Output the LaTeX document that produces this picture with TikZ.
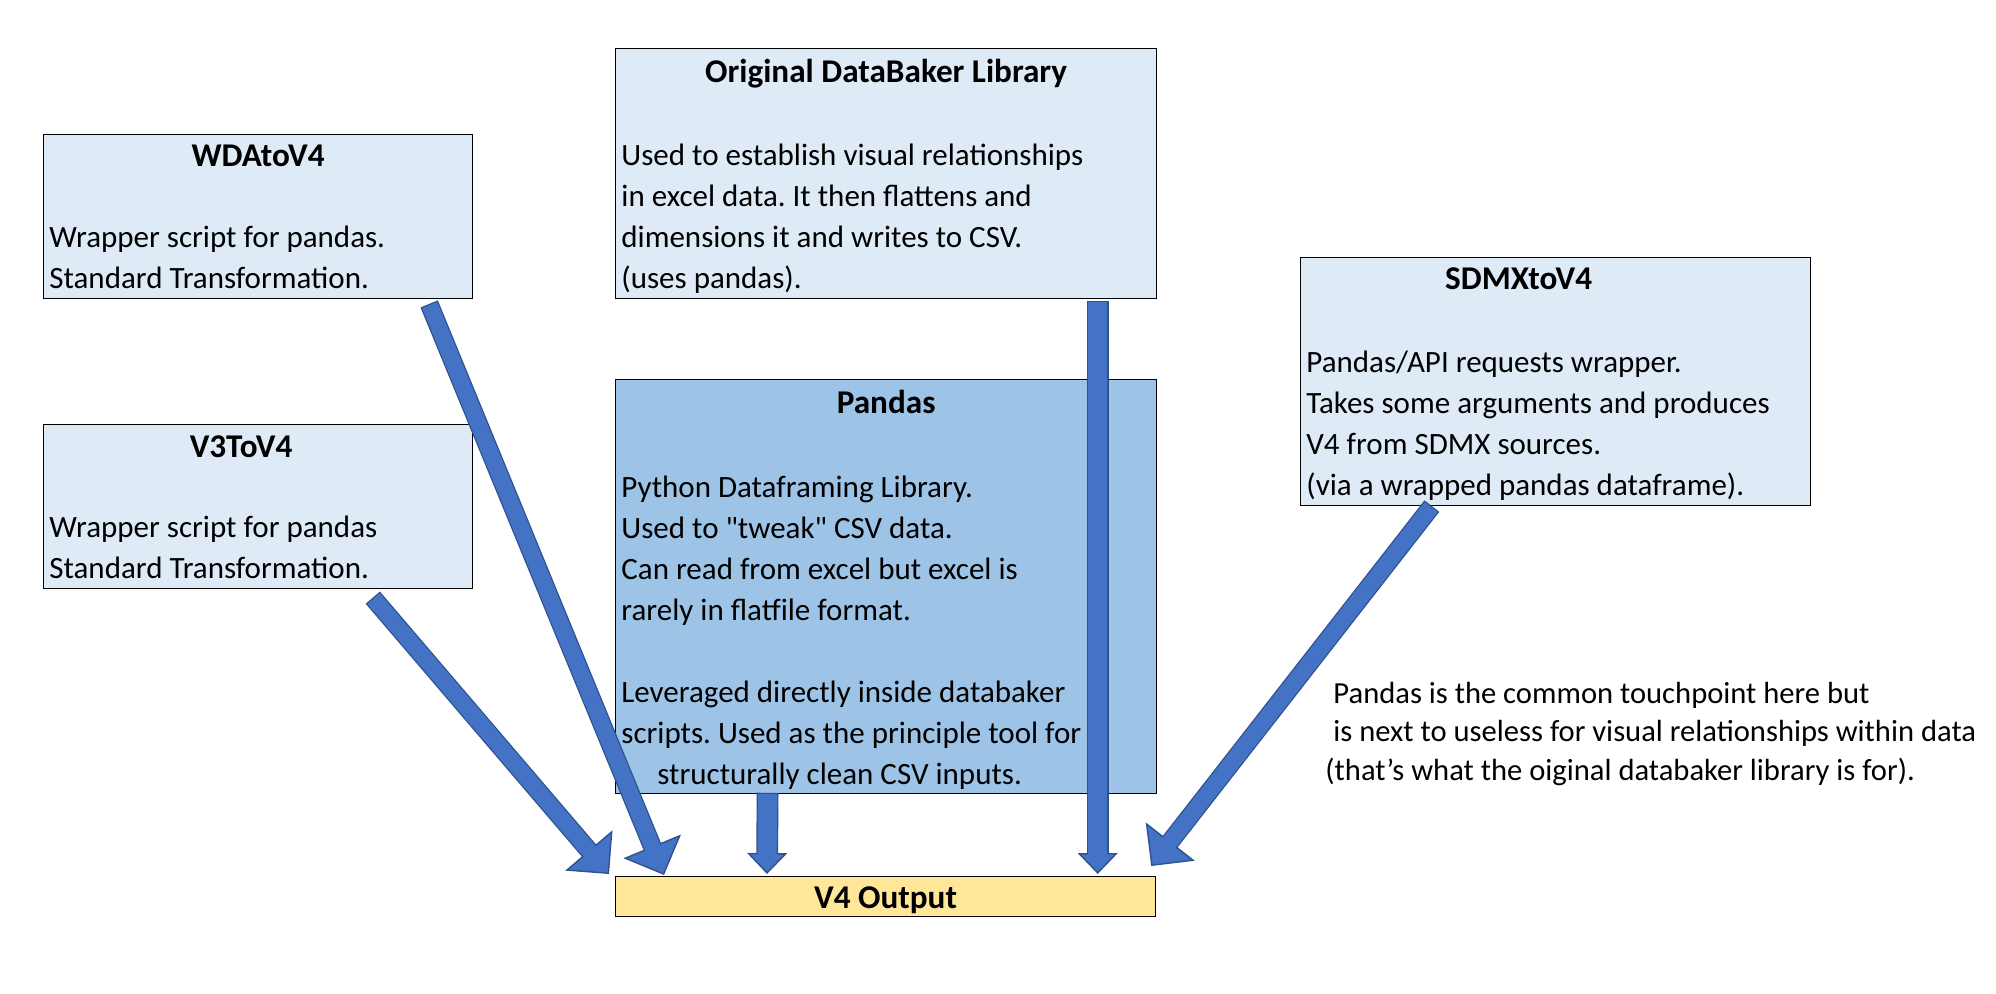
\documentclass[tikz,border=0pt]{standalone}
\usepackage{fontspec}
\setmainfont{Carlito}
\usetikzlibrary{arrows.meta,positioning}
\frenchspacing

\definecolor{boxblue}{HTML}{DEEBF7}
\definecolor{pandasblue}{HTML}{9DC3E6}
\definecolor{outyellow}{HTML}{FFE699}
\definecolor{arrowblue}{HTML}{4472C4}
\definecolor{arrowedge}{HTML}{2F528F}

\newcommand{\boxfont}{\fontsize{15.5pt}{20.5pt}\selectfont}
\newcommand{\titlefont}{\fontsize{16.6pt}{20.5pt}\selectfont\bfseries}

\tikzset{
  libbox/.style={draw=black, line width=0.6pt, fill=boxblue, anchor=north west, inner sep=0pt,
    minimum width=214.5pt, minimum height=82pt},
  boxtitle/.style={font=\titlefont, anchor=base, inner sep=0pt},
  boxtext/.style={font=\boxfont, align=left, anchor=base west, inner sep=0pt},
  slantarrow/.style={draw=arrowblue, line width=8pt,
    -{Triangle[length=15.5pt 0, width=31pt 0, line width=0.7pt 0, color=arrowedge, fill=arrowblue]},
    preaction={draw=arrowedge, line width=9.4pt, arrows=-, shorten >=15pt, shorten <=-0.7pt},
    postaction={draw=arrowblue, line width=8pt, arrows=-, shorten >=14pt}},
  downarrow/.style={draw=arrowblue, line width=9.5pt,
    -{Triangle[length=10.5pt 0, width=20pt 0, line width=0.7pt 0, color=arrowedge, fill=arrowblue]},
    preaction={draw=arrowedge, line width=10.9pt, arrows=-, shorten >=10pt, shorten <=-0.7pt},
    postaction={draw=arrowblue, line width=9.5pt, arrows=-, shorten >=9pt}}
}

\begin{document}
\begin{tikzpicture}[x=0.5pt, y=-0.5pt]
  \useasboundingbox (0,0) rectangle (1996,994);

  % Kaesten
  \node[libbox] (wda) at (43,134) {};
  \node[libbox] (v3) at (43,424) {};
  \node[libbox, minimum width=270.5pt, minimum height=125pt] (orig) at (615,48) {};
  \node[libbox, fill=pandasblue, minimum width=270.5pt, minimum height=207pt] (pandas) at (615,379) {};
  \node[libbox, minimum width=255pt, minimum height=124pt] (sdmx) at (1300,257) {};
  \node[libbox, fill=outyellow, minimum width=270pt, minimum height=20pt] (out) at (615,876) {};

  % Titel
  \node[boxtitle] (wdatitle) at ([shift={(0,33)}]wda.north) {WDAtoV4};
  \node[boxtitle] (v3title) at ([shift={(-17,33)}]v3.north) {V3ToV4};
  \node[boxtitle] (origtitle) at ([shift={(0,35)}]orig.north) {Original DataBaker Library};
  \node[boxtitle] (pandastitle) at ([shift={(0,35)}]pandas.north) {Pandas};
  \node[boxtitle] (sdmxtitle) at ([shift={(-37,33)}]sdmx.north) {SDMXtoV4};
  \node[boxtitle] (outtitle) at ([shift={(0,12)}]out.center) {V4 Output};

  % Beschreibungen (Anker = Grundlinie der letzten Zeile)
  \node[boxtext] (wdatext) at ([shift={(6,155)}]wda.north west)
    {Wrapper script for pandas.\\ Standard Transformation.};
  \node[boxtext] (v3text) at ([shift={(6,154)}]v3.north west)
    {Wrapper script for pandas\\ Standard Transformation.};
  \node[boxtext] (origtext) at ([shift={(6,241)}]orig.north west)
    {Used to establish visual relationships\\ in excel data. It then flattens and\\
     dimensions it and writes to CSV.\\ (uses pandas).};
  \node[boxtext] (pandastext) at ([shift={(6,405)}]pandas.north west)
    {Python Dataframing Library.\\ Used to \textquotedbl tweak\textquotedbl{} CSV data.\\
     Can read from excel but excel is\\ rarely in flatfile format.\\[20.5pt]
     Leveraged directly inside databaker\\ scripts. Used as the principle tool for\\
     \hspace{18pt}structurally clean CSV inputs.};
  \node[boxtext] (sdmxtext) at ([shift={(6,238)}]sdmx.north west)
    {Pandas/API requests wrapper.\\ Takes some arguments and produces\\
     V4 from SDMX sources.\\ (via a wrapped pandas dataframe).};

  % Anmerkung
  \node[boxtext, font=\fontsize{15.3pt}{19.2pt}\selectfont] (note) at (1325,780)
    {\hspace{4pt}Pandas is the common touchpoint here but\\
     \hspace{4pt}is next to useless for visual relationships within data\\
     (that’s what the oiginal databaker library is for).};

  % Pfeile
  \draw[slantarrow] ([shift={(-43.5,6)}]wda.south east) -- ([shift={(49,-1)}]out.north west);
  \draw[slantarrow] ([shift={(-99.5,9.5)}]v3.south east) -- ([shift={(-6,-2)}]out.north west);
  \draw[downarrow] ([shift={(-118.5,0)}]pandas.south) -- ([shift={(152,-2)}]out.north west);
  \draw[downarrow] ([shift={(-59.5,3)}]orig.south east) -- ([shift={(-58.5,-2)}]out.north east);
  \draw[slantarrow] ([shift={(131,1)}]sdmx.south west) -- ([shift={(-5,-10)}]out.north east);
\end{tikzpicture}
\end{document}
